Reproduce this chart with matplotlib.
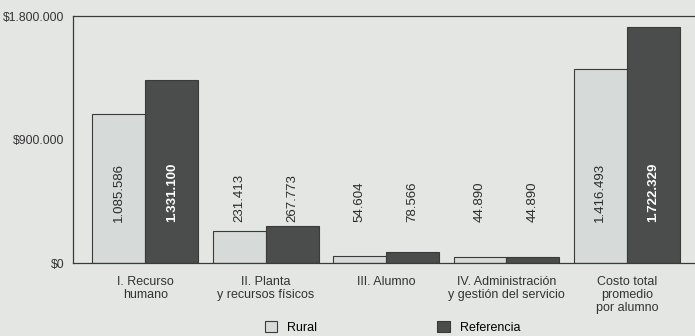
import numpy as np
import matplotlib.pyplot as plt

# cost per student, rural schools vs reference
categorias = ["I. Recurso\nhumano", "II. Planta\ny recursos físicos", "III. Alumno",
              "IV. Administración\ny gestión del servicio", "Costo total\npromedio\npor alumno"]
rural = [1085586, 231413, 54604, 44890, 1416493]
referencia = [1331100, 267773, 78566, 44890, 1722329]
ticks_y = [0, 900000, 1800000]
ticks_y_txt = ["$0", "$900.000", "$1.800.000"]

plt.rcParams['font.family'] = ['Liberation Sans', 'DejaVu Sans']

fondo = "#e4e6e4"
claro = "#d6dad9"
oscuro = "#4a4d4c"

def fmt(v):
	return f"{v:,}".replace(",", ".")

fig = plt.figure(figsize=(6.95, 3.36), dpi=100, facecolor=fondo)
ax = fig.add_axes([0.105, 0.217, 0.901, 0.735], facecolor=fondo)

x = np.arange(len(categorias))
w = 0.44
b1 = ax.bar(x - w/2, rural, w, color=claro, edgecolor="#3a3a3a", linewidth=0.8, label="Rural")
b2 = ax.bar(x + w/2, referencia, w, color=oscuro, edgecolor="#3a3a3a", linewidth=0.8, label="Referencia")

# value labels, all sitting on the same baseline
y_txt = 300000
for xi, v in zip(x - w/2, rural):
	ax.text(xi, y_txt, fmt(v), rotation=90, ha="center", va="bottom", fontsize=9.5, color="#2b2b2b")
for xi, v in zip(x + w/2, referencia):
	dentro = v > y_txt + 400000
	ax.text(xi, y_txt, fmt(v), rotation=90, ha="center", va="bottom", fontsize=9.5,
		color="white" if dentro else "#2b2b2b", fontweight="bold" if dentro else "normal")

ax.set_xlim(-0.6, 4.6)
ax.set_ylim(0, 1800000)
ax.set_yticks(ticks_y)
ax.set_yticklabels(ticks_y_txt, fontsize=8.7, color="#333333")
ax.set_xticks(x)
ax.set_xticklabels(categorias, fontsize=9, color="#333333", linespacing=1.15)
ax.tick_params(length=0)
ax.tick_params(axis="x", pad=9)
ax.tick_params(axis="y", pad=6)
for s in ax.spines.values():
	s.set_color("#3a3a3a")
	s.set_linewidth(0.9)

fig.legend(handles=[b1, b2], loc="center", bbox_to_anchor=(0.565, 0.026), ncol=2, frameon=False,
	fontsize=9, handlelength=1.0, handleheight=1.0, handletextpad=0.8, columnspacing=9.6)

plt.savefig("out.png", dpi=100, facecolor=fondo)
